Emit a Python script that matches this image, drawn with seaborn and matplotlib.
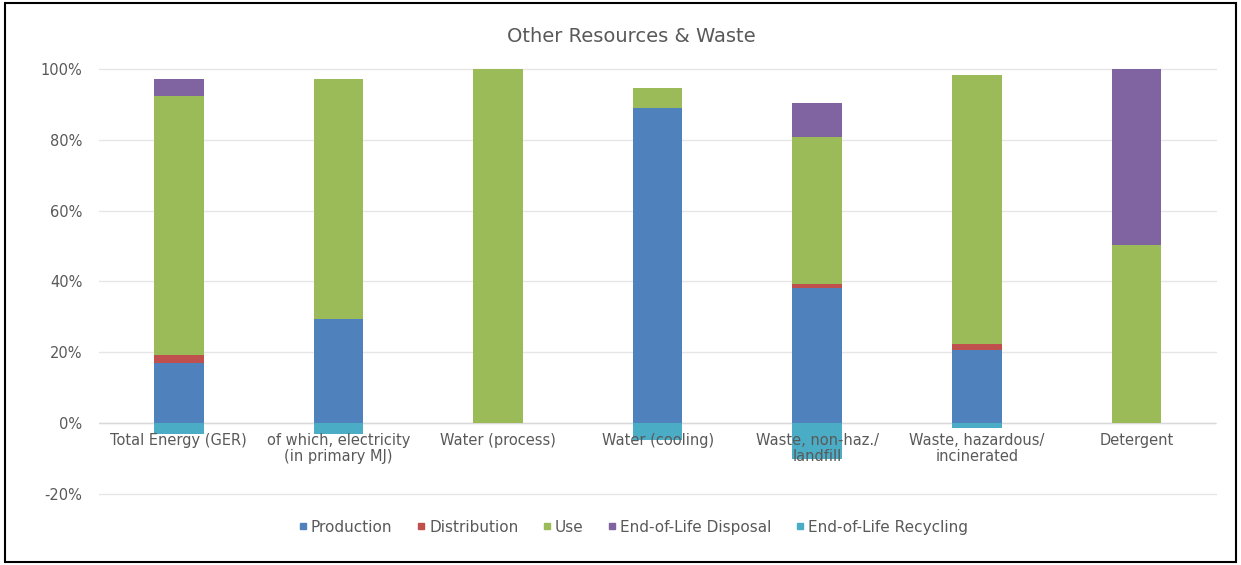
import pandas as pd
import numpy as np
import matplotlib
matplotlib.use("Agg")
import matplotlib.pyplot as plt
import seaborn as sns
from matplotlib.lines import Line2D
from matplotlib.patches import Rectangle

# values (share of life-cycle total)
categories = ["Total Energy (GER)", "of which, electricity\n(in primary MJ)", "Water (process)",
              "Water (cooling)", "Waste, non-haz./\nlandfill", "Waste, hazardous/\nincinerated", "Detergent"]
production = [0.170, 0.293, 0.000, 0.889, 0.382, 0.206, 0.000]
distribution = [0.022, 0.000, 0.000, 0.000, 0.010, 0.017, 0.000]
use = [0.732, 0.678, 1.000, 0.058, 0.417, 0.760, 0.503]
disposal = [0.047, 0.000, 0.000, 0.000, 0.094, 0.000, 0.497]
recycling = [-0.030, -0.030, 0.000, -0.048, -0.100, -0.015, 0.000]
ytick_vals = [-0.2, 0.0, 0.2, 0.4, 0.6, 0.8, 1.0]

series_names = ["Production", "Distribution", "Use", "End-of-Life Disposal", "End-of-Life Recycling"]
colors = ["#4F81BD", "#C0504D", "#9BBB59", "#8064A2", "#4BACC6"]

df = pd.DataFrame({"category": categories, "Production": production, "Distribution": distribution,
                   "Use": use, "End-of-Life Disposal": disposal, "End-of-Life Recycling": recycling})

# cumulative tops for stacking, drawn from the tallest layer down
stack = ["Production", "Distribution", "Use", "End-of-Life Disposal"]
cum = df[stack].cumsum(axis=1)

sns.set_theme(style="white")
plt.rcParams["font.family"] = ["DejaVu Sans"]

fig = plt.figure(figsize=(12.41, 5.65), dpi=100)
ax = fig.add_axes([0.0798, 0.1257, 0.9002, 0.7523])

for name, col in reversed(list(zip(stack, colors[:4]))):
    sns.barplot(x=df["category"], y=cum[name], color=col, width=0.31, saturation=1,
                ax=ax, linewidth=0, zorder=3)
sns.barplot(x=df["category"], y=df["End-of-Life Recycling"], color=colors[4], width=0.31,
            saturation=1, ax=ax, linewidth=0, zorder=3)

ax.set_ylim(-0.2, 1.0)
ax.set_xlim(-0.5, 6.5)
ax.set_yticks(ytick_vals)
ax.set_yticklabels([f"{int(round(v * 100))}%" for v in ytick_vals], color="#595959", fontsize=10.5)
ax.tick_params(axis="y", length=0, pad=12)
ax.set_xticks([])
ax.set_xlabel("")
ax.set_ylabel("")
for s in ax.spines.values():
    s.set_visible(False)
for v in ytick_vals:
    ax.axhline(v, color="#e6e6e6", linewidth=1, zorder=0, clip_on=False)
ax.axhline(0, color="#d9d9d9", linewidth=1, zorder=2)

# category labels sit just under the zero line, like Excel's crossing axis
for i, lab in enumerate(categories):
    ax.annotate(lab, (i, 0), xytext=(0, -7), textcoords="offset points", ha="center", va="top",
                fontsize=10.5, color="#595959", zorder=4, linespacing=1.1)

fig.text(0.509, 0.935, "Other Resources & Waste", ha="center", va="center",
         fontsize=14, color="#595959")

handles = [Line2D([], [], marker="s", linestyle="", markersize=5, color=c) for c in colors]
fig.legend(handles, series_names, loc="center", bbox_to_anchor=(0.509, 0.067), ncol=5,
           frameon=False, fontsize=11, handletextpad=0.05, columnspacing=1.35,
           handlelength=1.0, labelcolor="#595959")

fig.add_artist(Rectangle((0.004, 0.005), 0.992, 0.99, transform=fig.transFigure,
                         fill=False, edgecolor="black", linewidth=1.5))

fig.savefig("out.png", dpi=100)
